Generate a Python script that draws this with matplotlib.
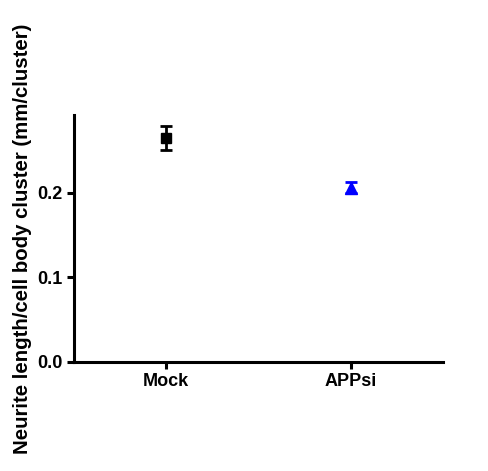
import matplotlib.pyplot as plt

plt.rcParams['font.family'] = ['Liberation Sans', 'DejaVu Sans']

groups = ["Mock", "APPsi"]
means = [0.265, 0.206]
sems = [0.014, 0.0065]
markers = ["s", "^"]
colors = ["black", "#0000ff"]

fig = plt.figure(figsize=(4.89, 4.71), dpi=100)
ax = fig.add_axes([74 / 489, 1 - 362 / 471, 369 / 489, 247 / 471])

for i, (m, s) in enumerate(zip(means, sems)):
    ax.errorbar(i, m, yerr=s, fmt=markers[i], color=colors[i], ms=7 if i == 0 else 8,
                elinewidth=2, capsize=4.5, capthick=2)

ax.set_xlim(-0.5, 1.5)
ax.set_ylim(0, 0.292)
ax.set_xticks(range(len(groups)))
ax.set_xticklabels(groups)
ax.set_yticks([0.0, 0.1, 0.2])
ax.set_yticklabels(["0.0", "0.1", "0.2"])

for side in ("top", "right"):
    ax.spines[side].set_visible(False)
for side in ("left", "bottom"):
    ax.spines[side].set_linewidth(2.2)
ax.tick_params(width=2.2, length=5, labelsize=13, pad=3)
for lab in ax.get_xticklabels() + ax.get_yticklabels():
    lab.set_fontweight("bold")

ax.set_ylabel("Neurite length/cell body cluster (mm/cluster)", fontsize=14.7,
              fontweight="bold", labelpad=4)

fig.savefig("out.png", dpi=100)
